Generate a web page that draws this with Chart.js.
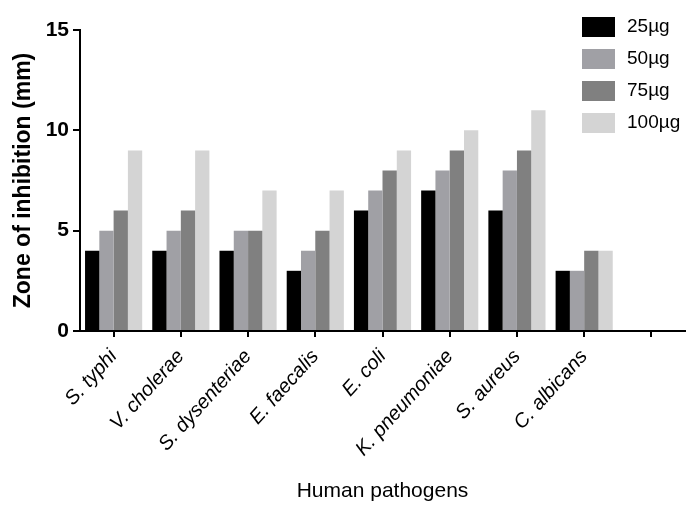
<!DOCTYPE html>
<html>
<head>
<meta charset="utf-8">
<script src="https://cdn.jsdelivr.net/npm/chart.js@4"></script>
<style>
  html, body { margin: 0; padding: 0; background: #fff; }
  #wrap { width: 691px; height: 506px; position: relative; }
</style>
</head>
<body>
<div id="wrap"><canvas id="chart"></canvas></div>
<script>
// Data
const pathogens = ['S. typhi', 'V. cholerae', 'S. dysenteriae', 'E. faecalis', 'E. coli',
                   'K. pneumoniae', 'S. aureus', 'C. albicans', ''];
const doseLabels = ['25µg', '50µg', '75µg', '100µg'];
const dose25 = [4, 4, 4, 3, 6, 7, 6, 3];
const dose50 = [5, 5, 5, 4, 7, 8, 8, 3];
const dose75 = [6, 6, 5, 5, 8, 9, 9, 4];
const dose100 = [9, 9, 7, 7, 9, 10, 11, 4];
const yTicks = [0, 5, 10, 15];

const colors = ['#000000', '#a0a0a5', '#808080', '#d4d4d4'];
const fontFamily = "Arial, 'Liberation Sans', sans-serif";

// legend drawn in the top-right corner, over the plot
const cornerLegend = {
    id: 'cornerLegend',
    afterDraw(chart) {
        const ctx = chart.ctx;
        const x = chart.width - 109;
        ctx.save();
        ctx.font = '19px ' + fontFamily;
        ctx.textBaseline = 'middle';
        chart.data.datasets.forEach((ds, i) => {
            const y = 17 + i * 32;
            ctx.fillStyle = ds.backgroundColor;
            ctx.fillRect(x, y, 33, 20);
            ctx.fillStyle = '#000';
            ctx.fillText(ds.label, x + 45, y + 10);
        });
        ctx.restore();
    }
};

const series = [dose25, dose50, dose75, dose100];

new Chart(document.getElementById('chart'), {
    type: 'bar',
    data: {
        labels: pathogens,
        datasets: series.map((d, i) => ({
            label: doseLabels[i],
            data: d,
            backgroundColor: colors[i],
            borderWidth: 0,
            categoryPercentage: 0.85,
            barPercentage: 1
        }))
    },
    options: {
        responsive: true,
        maintainAspectRatio: false,
        animation: false,
        layout: { padding: { top: 30, right: 6, left: 0, bottom: 0 } },
        plugins: {
            legend: { display: false },
            tooltip: { enabled: false }
        },
        scales: {
            x: {
                offset: true,
                afterFit: s => { s.height = 175; },
                grid: {
                    offset: false,
                    drawOnChartArea: false,
                    color: '#000',
                    lineWidth: 2,
                    tickLength: 6
                },
                border: { color: '#000', width: 2 },
                ticks: {
                    color: '#000',
                    autoSkip: false,
                    minRotation: 48,
                    maxRotation: 48,
                    padding: 8,
                    font: { family: fontFamily, size: 20, style: 'italic' }
                },
                title: {
                    display: true,
                    text: 'Human pathogens',
                    color: '#000',
                    font: { family: fontFamily, size: 21 },
                    padding: { top: 0, bottom: 2 }
                }
            },
            y: {
                min: 0,
                max: 15,
                afterFit: s => { s.width = 80; },
                afterBuildTicks: s => { s.ticks = yTicks.map(v => ({ value: v })); },
                grid: {
                    drawOnChartArea: false,
                    color: '#000',
                    lineWidth: 2,
                    tickLength: 7
                },
                border: { color: '#000', width: 2 },
                ticks: {
                    color: '#000',
                    padding: 4,
                    font: { family: fontFamily, size: 21, weight: 'bold' }
                },
                title: {
                    display: true,
                    text: 'Zone of inhibition (mm)',
                    color: '#000',
                    font: { family: fontFamily, size: 23, weight: 'bold' },
                    padding: { top: 10, bottom: 0 }
                }
            }
        }
    },
    plugins: [cornerLegend]
});
</script>
</body>
</html>
